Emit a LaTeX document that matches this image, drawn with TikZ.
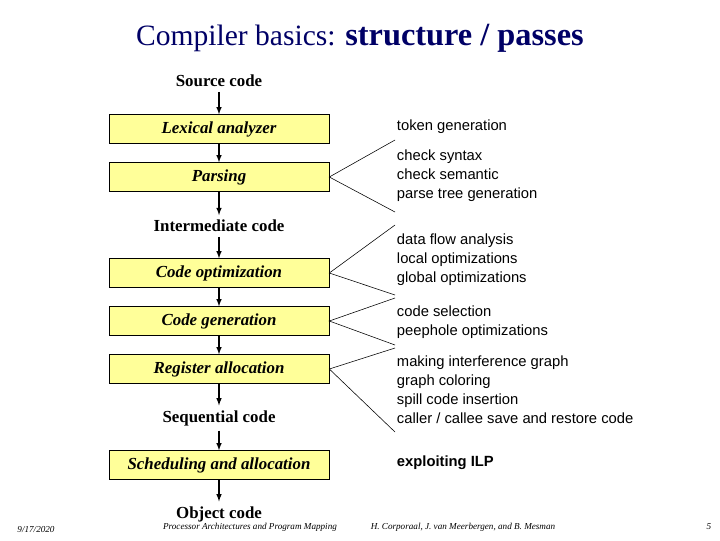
\documentclass[tikz,border=0pt]{standalone}
\usepackage{fontspec}
\setmainfont{Liberation Serif}
\setsansfont{Liberation Sans}
\definecolor{boxfill}{RGB}{255,255,153}
\definecolor{titleblue}{RGB}{0,0,102}
\tikzset{
  phase/.style={draw, fill=boxfill, minimum width=5.5cm, minimum height=0.72cm, font=\fontsize{12}{14}\selectfont\bfseries\itshape},
  code/.style={font=\fontsize{12}{14}\selectfont\bfseries},
  note/.style={anchor=west, align=left, font=\sffamily\fontsize{10.5}{13.5}\selectfont},
  flow/.style={-latex, thick},
  fan/.style={thin}
}
\begin{document}
\begin{tikzpicture}[x=0.025cm, y=-0.025cm]
\useasboundingbox (0,0) rectangle (720,540);

\node[titleblue] (title) at (360,38) {\fontsize{21}{24}\selectfont Compiler basics: \fontsize{23}{26}\selectfont\bfseries structure / passes};

% left column
\node[code] (src) at (219,81) {Source code};
\node[phase] (lex) at (219,129) {Lexical analyzer};
\node[phase] (par) at (219,177) {Parsing};
\node[code] (inter) at (219,226) {Intermediate code};
\node[phase] (opt) at (219,273) {Code optimization};
\node[phase] (gen) at (219,321) {Code generation};
\node[phase] (reg) at (219,369) {Register allocation};
\node[code] (seq) at (219,418) {Sequential code};
\node[phase] (sch) at (219,465) {Scheduling and allocation};
\node[code] (obj) at (219,514) {Object code};

\draw[flow] (src) -- (lex);
\draw[flow] (lex) -- (par);
\draw[flow] (par) -- (inter);
\draw[flow] (inter) -- (opt);
\draw[flow] (opt) -- (gen);
\draw[flow] (gen) -- (reg);
\draw[flow] (reg) -- (seq);
\draw[flow] (seq) -- (sch);
\draw[flow] (sch) -- (obj);

% right column
\node[note] (ntok) at (392,127) {token generation};
\node[note] (npar) at (392,176) {check syntax\\check semantic\\parse tree generation};
\node[note] (nopt) at (392,260) {data flow analysis\\local optimizations\\global optimizations};
\node[note] (ngen) at (392,322) {code selection\\peephole optimizations};
\node[note] (nreg) at (392,390) {making interference graph\\graph coloring\\spill code insertion\\caller / callee save and restore code};
\node[note, font=\sffamily\bfseries\fontsize{10.5}{13.5}\selectfont] (nilp) at (392,463) {exploiting ILP};

\coordinate (p1) at (395,140); \coordinate (p2) at (395,212);
\coordinate (o1) at (395,225); \coordinate (o2) at (395,295);
\coordinate (g1) at (395,298); \coordinate (g2) at (395,345);
\coordinate (r1) at (395,348); \coordinate (r2) at (395,432);
\draw[fan] (p1) -- (par.east) -- (p2);
\draw[fan] (o1) -- (opt.east) -- (o2);
\draw[fan] (g1) -- (gen.east) -- (g2);
\draw[fan] (r1) -- (reg.east) -- (r2);

% footer
\node[font=\fontsize{6.5}{8}\selectfont\itshape] (date) at (36,529) {9/17/2020};
\node[font=\fontsize{6.5}{8}\selectfont\itshape] (course) at (250,527) {Processor Architectures and Program Mapping};
\node[font=\fontsize{6.5}{8}\selectfont\itshape] (authors) at (463,527) {H. Corporaal, J. van Meerbergen, and B. Mesman};
\node[font=\fontsize{6.5}{8}\selectfont\itshape] (page) at (709,527) {5};
\end{tikzpicture}
\end{document}
